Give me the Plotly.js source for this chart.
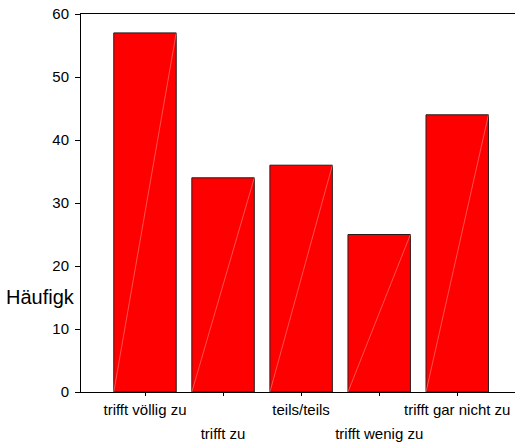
<!DOCTYPE html>
<html>
<head>
<meta charset="utf-8">
<script src="https://cdn.plot.ly/plotly-3.0.1.min.js"></script>
<style>html,body{margin:0;padding:0;background:#fff;}#chart{width:515px;height:447px;}</style>
</head>
<body>
<div id="chart"></div>
<script>
const categories = ["trifft völlig zu", "trifft zu", "teils/teils", "trifft wenig zu", "trifft gar nicht zu"];
const counts = [57, 34, 36, 25, 44];
const yTickValues = [0, 10, 20, 30, 40, 50, 60];
const yAxisTitle = "Häufigk";

const positions = categories.map((c, i) => i);
const barWidth = 0.8;
const fontFam = "Arial, 'Liberation Sans', sans-serif";

const traces = [{
  type: "bar",
  x: positions,
  y: counts,
  width: barWidth,
  marker: {color: "#ff0000", line: {color: "#2a1a1a", width: 1}},
  hoverinfo: "skip",
  showlegend: false
}];
// faint diagonal highlight in each bar (bottom-left to top-right), on the overlaying axis
positions.forEach((p, i) => {
  traces.push({
    type: "scatter", mode: "lines",
    xaxis: "x2", yaxis: "y",
    x: [p - barWidth / 2, p + barWidth / 2],
    y: [0, counts[i]],
    line: {color: "rgba(255,190,190,0.7)", width: 0.6},
    hoverinfo: "skip", showlegend: false
  });
});

const oddText = categories.map((c, i) => i % 2 === 0 ? c : "");
const evenText = categories.map((c, i) => i % 2 === 1 ? c : "");

const layout = {
  width: 515, height: 447,
  margin: {l: 81, r: 0, t: 14, b: 55},
  paper_bgcolor: "#fff", plot_bgcolor: "#fff",
  font: {family: fontFam, color: "#000"},
  bargap: 0,
  xaxis: {
    range: [-0.82, 4.74],
    tickvals: positions, ticktext: oddText,
    ticks: "outside", ticklen: 3, tickcolor: "#000",
    showline: true, linecolor: "#000", linewidth: 1,
    mirror: true, showgrid: false, zeroline: false,
    tickfont: {size: 15, family: fontFam, color: "#000"},
    ticklabelstandoff: 1
  },
  xaxis2: {
    overlaying: "x", side: "bottom", anchor: "y",
    range: [-0.82, 4.74],
    tickvals: positions, ticktext: evenText,
    ticks: "", showline: false, showgrid: false, zeroline: false,
    tickfont: {size: 15, family: fontFam, color: "#000"},
    ticklabelstandoff: 31
  },
  yaxis: {
    range: [0, 60],
    tickvals: yTickValues,
    ticks: "outside", ticklen: 5, tickcolor: "#000",
    showline: true, linecolor: "#000", linewidth: 1,
    showgrid: false, zeroline: false,
    tickfont: {size: 15, family: fontFam, color: "#000"},
    ticklabelstandoff: 3
  },
  annotations: [{
    text: yAxisTitle, xref: "paper", yref: "paper",
    x: -81 / 434 + 4 / 434, y: (392 - 297) / 378,
    xanchor: "left", yanchor: "middle", showarrow: false,
    font: {size: 20, family: fontFam, color: "#000"}
  }]
};

Plotly.newPlot("chart", traces, layout, {displayModeBar: false, staticPlot: true});
</script>
</body>
</html>
